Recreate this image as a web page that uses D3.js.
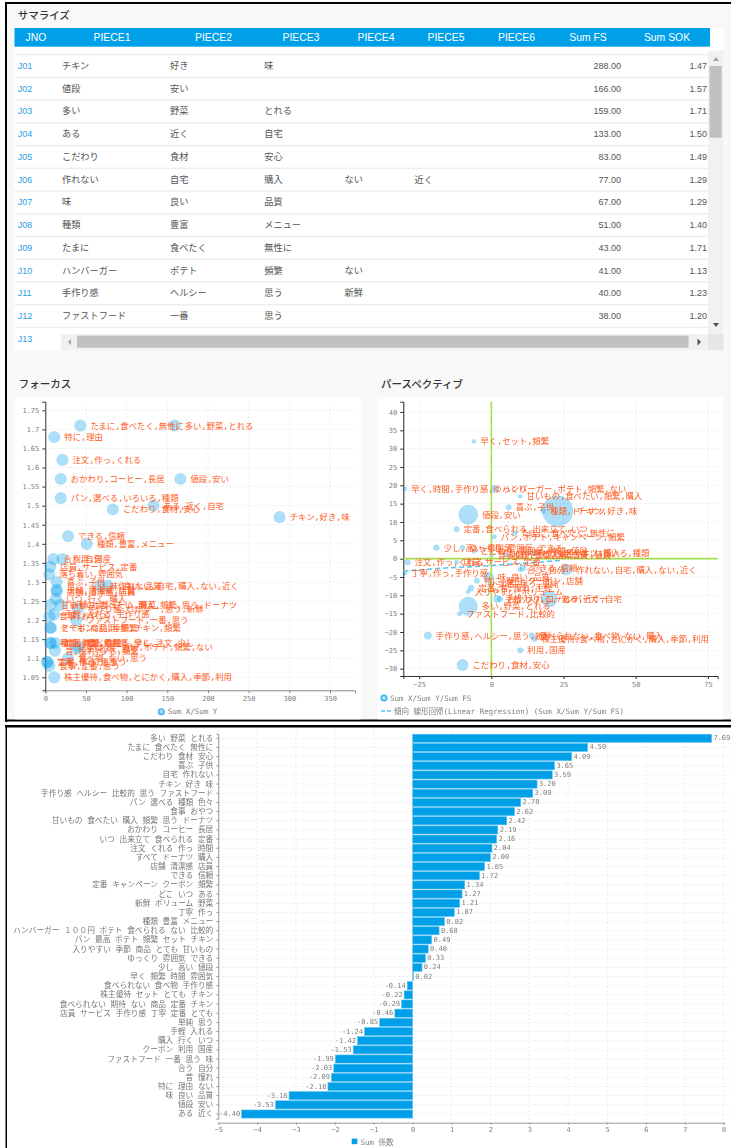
<!DOCTYPE html>
<html><head><meta charset="utf-8">
<script src="https://cdnjs.cloudflare.com/ajax/libs/d3/7.8.5/d3.min.js"></script>
<style>
html,body{margin:0;padding:0;background:#fff}
svg{display:block;filter:blur(0.45px)}
text{font-family:"Liberation Sans","Noto Sans CJK JP",sans-serif}
.mono{font-family:"DejaVu Sans Mono","Noto Sans CJK JP",monospace}
</style></head><body><svg id="c" width="731" height="1148"></svg>
<script>
// ---------- table ----------
const tableHeaders=["JNO","PIECE1","PIECE2","PIECE3","PIECE4","PIECE5","PIECE6","Sum FS","Sum SOK"];
const jno=["J01","J02","J03","J04","J05","J06","J07","J08","J09","J10","J11","J12","J13"];
const piece1=["チキン","値段","多い","ある","こだわり","作れない","味","種類","たまに","ハンバーガー","手作り感","ファストフード",""];
const piece2=["好き","安い","野菜","近く","食材","自宅","良い","豊富","食べたく","ポテト","ヘルシー","一番",""];
const piece3=["味","","とれる","自宅","安心","購入","品質","メニュー","無性に","頻繁","思う","思う",""];
const piece4=["","","","","","ない","","","","ない","新鮮","",""];
const piece5=["","","","","","近く","","","","","","",""];
const sumFS=[288,166,159,133,83,77,67,51,43,41,40,38];
const sumSOK=[1.47,1.57,1.71,1.50,1.49,1.29,1.29,1.40,1.71,1.13,1.23,1.20];
// ---------- focus scatter ----------
const focusLabels=["たまに,食べたく,無性に","多い,野菜,とれる","特に,理由","注文,作っ,くれる","おかわり,コーヒー,長居","値段,安い","パン,選べる,いろいろ,種類","ある,近く,自宅","こだわり,食材,安心","チキン,好き,味","できる,信頼","種類,豊富,メニュー","合う,自分","利用,国産","店員,サービス,定番","落ち着い,雰囲気","喜ぶ,子供","味,良い,品質","作れない,自宅,購入,ない,近く","単純,清潔感,店員","店舗,清潔感,店員","いつ,行く,購入","甘いもの,食べたい,購入,頻繁,思う,ドーナツ","新鮮,ボリューム,野菜","手作り感,ヘルシー,思う,新鮮","手軽,入れる,手作り感","食事,おやつ","ファストフード,一番,思う","とても,商品,季節,チキン,頻繁","クーポン,利用,頻繁","種類,時間,雰囲気,早く","定番,食べられる,少し,注文,少し","早く,頻繁,時間","ハンバーガー,ポテト,頻繁,ない","単純,味,思う","昔,憧れ,少し,頻繁","食べ物,ない,思う","定番,手作り,思う","丁寧,作っ,思う","食事,定番,思う","株主優待,食べ物,とにかく,購入,季節,利用"];
const focusX=[43,159,11,21,19,166,19,133,83,288,28,51,10,21,6,5,14,67,77,14,14,13,7,19,40,11,5,38,7,6,6,12,7,41,38,12,28,3,2,5,11];
const focusY=[1.71,1.71,1.68,1.62,1.57,1.57,1.52,1.50,1.49,1.47,1.42,1.40,1.36,1.36,1.34,1.32,1.30,1.29,1.29,1.28,1.275,1.255,1.24,1.24,1.23,1.215,1.21,1.20,1.18,1.18,1.14,1.14,1.14,1.13,1.125,1.12,1.10,1.09,1.09,1.08,1.05];
const focusXTicks=[0,50,100,150,200,250,300,350];
const focusYTicks=[1.05,1.1,1.15,1.2,1.25,1.3,1.35,1.4,1.45,1.5,1.55,1.6,1.65,1.7,1.75];
// ---------- perspective scatter ----------
const perspLabels=["早く,セット,頻繁","早く,時間,手作り感,ゆっくり","ハンバーガー,ポテト,頻繁,ない","甘いもの,食べたい,頻繁,購入","喜ぶ,子供","値段,安い","種類,ドーナツ","チキン,好き,味","定番,食べられる,出来立て,いつ","たまに,食べたく,無性に","パン,ポテト,キャンペーン,頻繁","少し,高い,雰囲気","ゆっくり,雰囲気,できる","こだわり,雰囲気,時間,値段","食事,おやつ,店舗,店員","パン,選べる,いろいろ,種類","種類,豊富,メニュー,値段","すべて,ドーナツ,購入","注文,作っ,くれる","店員,サービス,定番","丁寧,作っ,手作り感","作れない,自宅,購入,ない,近く","できる,信頼","合う,自分","味,良い,品質","特に,理由,クーポン,店舗","定番,昔,憧れ,手軽","入りやすい,ボリューム","定番,思う,単純","手軽,入れる,ハンバーガー","おかわり,コーヒー","ある,近く,自宅","多い,野菜,とれる","ファストフード,比較的","手作り感,ヘルシー,思う,新鮮","食べられない,食べ物,ない,購入","株主優待,食べ物,とにかく,購入,季節,利用","利用,国産","こだわり,食材,安心"];
const perspX=[-6,-30,1,10,6,-8,18,23,-12,8,1,-19,-10,-6,0,15,5,13,-29,-12,-30,26,11,10,-1,-5,-7,-8,0,2,3,20,-8,-11,-22,14,15,10,-10];
const perspY=[32,19,19,17,14,12,13,13,8,7,6,3,3,2,1,1.5,1,1.5,-1,-1,-4,-3,-2.5,-3,-5,-6,-8,-9,-7,-11,-11,-11,-13,-15,-21,-21,-22,-25,-29];
const perspFS=[6,8,41,6,20,166,14,288,20,16,10,22,14,6,6,19,12,8,21,9,7,77,28,10,67,20,24,6,14,40,21,133,159,10,40,22,11,21,83];
const trendX=[-30.5,-15,0,10,24];
const trendY=[-3.4,-2.5,-1.9,-1.3,-0.5];
const perspXTicks=[-25,0,25,50,75];
const perspYTicks=[-30,-25,-20,-15,-10,-5,0,5,10,15,20,25,30,35,40];
// ---------- bar chart ----------
const barCats=["多い 野菜 とれる","たまに 食べたく 無性に","こだわり 食材 安心","喜ぶ 子供","自宅 作れない","チキン 好き 味","手作り感 ヘルシー 比較的 思う ファストフード","パン 選べる 種類 色々","食事 おやつ","甘いもの 食べたい 購入 頻繁 思う ドーナツ","おかわり コーヒー 長居","いつ 出来立て 食べられる 定番","注文 くれる 作っ 時間","すべて ドーナツ 購入","店舗 清潔感 店員","できる 信頼","定番 キャンペーン クーポン 頻繁","どこ いつ ある","新鮮 ボリューム 野菜","丁寧 作っ","種類 豊富 メニュー","ハンバーガー １００円 ポテト 食べられる ない 比較的","パン 最高 ポテト 頻繁 セット チキン","入りやすい 季節 商品 とても 甘いもの","ゆっくり 雰囲気 できる","少し 高い 値段","早く 頻繁 時間 雰囲気","食べられない 食べ物 手作り感","株主優待 セット とても チキン","食べられない 期待 ない 商品 定番 チキン","店員 サービス 手作り感 丁寧 定番 とても","単純 思う","手軽 入れる","購入 行く いつ","クーポン 利用 国産","ファストフード 一番 思う 味","合う 自分","昔 憧れ","特に 理由 ない","味 良い 品質","値段 安い","ある 近く"];
const barVals=[7.69,4.50,4.09,3.65,3.59,3.20,3.09,2.78,2.62,2.42,2.19,2.16,2.04,2.00,1.85,1.72,1.34,1.27,1.21,1.07,0.82,0.68,0.49,0.40,0.33,0.24,0.02,-0.14,-0.22,-0.29,-0.46,-0.85,-1.24,-1.42,-1.53,-1.99,-2.03,-2.09,-2.18,-3.18,-3.53,-4.40];
const barTicks=[-5,-4,-3,-2,-1,0,1,2,3,4,5,6,7,8];

const BLUE="#00a0e9",ORANGE="#ff5a20",GRAY="#808080",GRID="#ececec";
const svg=d3.select("#c");
const rect=(g,x,y,w,h,f)=>g.append("rect").attr("x",x).attr("y",y).attr("width",w).attr("height",h).attr("fill",f);
const title=(x,y,t)=>svg.append("text").attr("x",x).attr("y",y).attr("font-size",10.5).attr("font-weight",500).attr("fill","#333").attr("dominant-baseline","central").text(t);

// panels and black frame
rect(svg,6,3,725,717,"#f8f8f8");
rect(svg,5,2,726,2,"#000");rect(svg,5,2,2,720,"#000");rect(svg,5,719.5,726,2,"#000");
rect(svg,5,725,726,2.5,"#000");rect(svg,5.5,725,1.5,423,"#000");
title(17.7,14.5,"サマライズ");title(18.7,384,"フォーカス");title(381,384,"パースペクティブ");

// ---- table ----
const T=svg.append("g");
rect(T,14.5,28,709,322,"#fff");
rect(T,14.5,28,695.5,18.7,BLUE);
const headerX=[36,112,213.5,301,376,446,516.5,588,667];
T.selectAll(".h").data(tableHeaders).join("text").attr("x",(d,i)=>headerX[i]).attr("y",37.5).attr("text-anchor","middle").attr("dominant-baseline","central").attr("fill","#fff").attr("font-size",10.4).attr("font-weight",500).text(d=>d);
const rowY=d3.scaleLinear().domain([0,12]).range([66,338.8]);
T.selectAll(".rl").data(jno).join("rect").attr("x",14.5).attr("width",693.5).attr("y",(d,i)=>rowY(i)-12).attr("height",1.3).attr("fill","#e9eef2");
const cols=[[piece1,62],[piece2,170],[piece3,264.3],[piece4,344.5],[piece5,414.5]];
T.selectAll(".j").data(jno).join("text").attr("x",17.7).attr("y",(d,i)=>rowY(i)).attr("dominant-baseline","central").attr("font-size",9).attr("fill","#2a9ce6").text(d=>d);
cols.forEach(([arr,x])=>T.selectAll(null).data(arr).join("text").attr("x",x).attr("y",(d,i)=>rowY(i)).attr("dominant-baseline","central").attr("font-size",9.2).attr("fill","#555").text(d=>d));
T.selectAll(null).data(sumFS).join("text").attr("x",621).attr("y",(d,i)=>rowY(i)).attr("text-anchor","end").attr("dominant-baseline","central").attr("font-size",9).attr("fill","#555").text(d=>d.toFixed(2));
T.selectAll(null).data(sumSOK).join("text").attr("x",707).attr("y",(d,i)=>rowY(i)).attr("text-anchor","end").attr("dominant-baseline","central").attr("font-size",9).attr("fill","#555").text(d=>d.toFixed(2));
// scrollbars
rect(T,708,50.7,15.5,283.3,"#f1f1f1");rect(T,709.5,66,12.2,71.7,"#c1c1c1");
rect(T,61,334,647,16,"#f1f1f1");rect(T,77,335.7,611.6,12,"#c1c1c1");rect(T,708,334,15.5,16,"#e6e6e6");
T.append("path").attr("d","M713 61l3-4 3 4z").attr("fill","#a3a3a3");
T.append("path").attr("d","M713 323l3 4 3-4z").attr("fill","#505050");
T.append("path").attr("d","M71 339l-3 3 3 3z").attr("fill","#a3a3a3");
T.append("path").attr("d","M697.5 338.5l3.5 3.5-3.5 3.5z").attr("fill","#505050");

function gridAxes(g,x,y,xTicks,yTicks,fmtX,fmtY,xAxisCol,yAxisCol){
  const [x0,x1]=x.range(),[y0,y1]=y.range();
  g.append("g").selectAll("line").data(xTicks).join("line").attr("x1",d=>x(d)).attr("x2",d=>x(d)).attr("y1",y0).attr("y2",y1).attr("stroke",GRID).attr("stroke-dasharray","2,2");
  g.append("g").selectAll("line").data(yTicks).join("line").attr("y1",d=>y(d)).attr("y2",d=>y(d)).attr("x1",x0).attr("x2",x1).attr("stroke",GRID).attr("stroke-dasharray","2,2");
  const ax=g.append("g").attr("transform",`translate(0,${y0})`).call(d3.axisBottom(x).tickValues(xTicks).tickFormat(fmtX).tickSize(3).tickPadding(3));
  const ay=g.append("g").attr("transform",`translate(${x0},0)`).call(d3.axisLeft(y).tickValues(yTicks).tickFormat(fmtY).tickSize(3).tickPadding(3));
  ax.selectAll("text").attr("class","mono").attr("font-size",7).attr("fill",GRAY);
  ay.selectAll("text").attr("class","mono").attr("font-size",7).attr("fill",GRAY);
  ax.selectAll("line").attr("stroke",xAxisCol);ay.selectAll("line").attr("stroke",yAxisCol);
  ax.select(".domain").attr("stroke",xAxisCol);ay.select(".domain").attr("stroke",yAxisCol);
  ax.attr("font-family",null);ay.attr("font-family",null);
}
function labels(g,xs,ys,rs,txt,x,y){
  g.append("g").selectAll("text").data(txt).join("text").attr("class","mono").attr("x",(d,i)=>x(xs[i])+rs(i)+4.3).attr("y",(d,i)=>y(ys[i])).attr("dominant-baseline","central").attr("font-size",8.4).attr("fill",ORANGE).text(d=>d);
}
function bubbles(g,xs,ys,rs,x,y){
  g.append("g").selectAll("circle").data(xs).join("circle").attr("cx",(d,i)=>x(d)).attr("cy",(d,i)=>y(ys[i])).attr("r",(d,i)=>rs(i)).attr("fill",BLUE).attr("fill-opacity",.32).attr("stroke",BLUE).attr("stroke-opacity",.12);
}

// ---- focus ----
const F=svg.append("g");
rect(F,14.7,397.3,346,322,"#fff");
const fx=d3.scaleLinear().domain([0,380.7]).range([45.3,355]);
const fy=d3.scaleLinear().domain([1.016,1.7726]).range([690.3,401.7]);
gridAxes(F,fx,fy,focusXTicks,focusYTicks,d3.format("d"),d=>(Math.round(d*100)/100).toString(),"#888","#333");
const frs=()=>5.8;
bubbles(F,focusX,focusY,frs,fx,fy);
labels(F,focusX,focusY,frs,focusLabels,fx,fy);
F.append("circle").attr("cx",161.3).attr("cy",711.7).attr("r",2.8).attr("fill","#a8dcf5").attr("stroke","#35b4ee").attr("stroke-width",1.4);
F.append("text").attr("class","mono").attr("x",167.7).attr("y",711.7).attr("dominant-baseline","central").attr("font-size",7.5).attr("fill",GRAY).text("Sum X/Sum Y");

// ---- perspective ----
const P=svg.append("g");
rect(P,377.7,397.3,345.6,322,"#fff");
const px=d3.scaleLinear().domain([-30.5,78.4]).range([403.3,717.7]);
const py=d3.scaleLinear().domain([-32,42.8]).range([676,401.7]);
gridAxes(P,px,py,perspXTicks,perspYTicks,d3.format("d"),d3.format("d"),"#333","#222");
const rScale=d3.scaleLinear().domain([0,288]).range([1.8,15.3]);
const prs=i=>rScale(perspFS[i]);
bubbles(P,perspX,perspY,prs,px,py);
P.append("line").attr("x1",px(0)).attr("x2",px(0)).attr("y1",401.7).attr("y2",676).attr("stroke","#a4e04a").attr("stroke-width",1.6);
P.append("line").attr("x1",403.3).attr("x2",717.7).attr("y1",py(0)).attr("y2",py(0)).attr("stroke","#a4e04a").attr("stroke-width",1.6);
P.append("path").datum(trendX).attr("d",d3.line().x(d=>px(d)).y((d,i)=>py(trendY[i]))).attr("fill","none").attr("stroke","#5cc4f2").attr("stroke-width",1.6).attr("stroke-dasharray","5,3");
labels(P,perspX,perspY,prs,perspLabels,px,py);
P.append("circle").attr("cx",384).attr("cy",698).attr("r",2.8).attr("fill","#a8dcf5").attr("stroke","#35b4ee").attr("stroke-width",1.4);
P.append("text").attr("class","mono").attr("x",390).attr("y",698).attr("dominant-baseline","central").attr("font-size",7.5).attr("fill",GRAY).text("Sum X/Sum Y/Sum FS");
P.append("line").attr("x1",381).attr("x2",392).attr("y1",711).attr("y2",711).attr("stroke","#5cc4f2").attr("stroke-width",1.6).attr("stroke-dasharray","4,2");
P.append("text").attr("class","mono").attr("x",394).attr("y",711).attr("dominant-baseline","central").attr("font-size",7.5).attr("fill",GRAY).text("傾向 線形回帰(Linear Regression) (Sum X/Sum Y/Sum FS)");

// ---- bars ----
const B=svg.append("g");
const bx=d3.scaleLinear().domain([-5,8]).range([218.3,723.7]);
const by=d3.scaleBand().domain(barCats).range([733.7,1118.6]);
const bAxisY=1122.7;
B.append("g").selectAll("line").data(barTicks).join("line").attr("x1",d=>bx(d)).attr("x2",d=>bx(d)).attr("y1",730).attr("y2",bAxisY).attr("stroke",GRID).attr("stroke-dasharray","2,2");
B.append("g").selectAll("line").data(barCats).join("line").attr("x1",218.3).attr("x2",731).attr("y1",d=>by(d)+by.bandwidth()/2).attr("y2",d=>by(d)+by.bandwidth()/2).attr("stroke",GRID).attr("stroke-dasharray","2,2");
B.append("g").selectAll("rect").data(barVals).join("rect").attr("x",d=>bx(Math.min(0,d))).attr("width",d=>Math.abs(bx(d)-bx(0))).attr("y",(d,i)=>by(barCats[i])+0.5).attr("height",by.bandwidth()-1).attr("fill",BLUE).attr("stroke","#66c5f1").attr("stroke-width",.6);
B.append("g").selectAll("text").data(barVals).join("text").attr("class","mono").attr("x",d=>bx(d)+(d<0?-1.5:1.8)).attr("y",(d,i)=>by(barCats[i])+by.bandwidth()/2).attr("text-anchor",d=>d<0?"end":"start").attr("dominant-baseline","central").attr("font-size",7).attr("fill",GRAY).text(d=>d.toFixed(2));
const bax=B.append("g").attr("transform",`translate(0,${bAxisY})`).call(d3.axisBottom(bx).tickValues(barTicks).tickFormat(d3.format("d")).tickSize(2).tickPadding(2));
bax.selectAll("text").attr("class","mono").attr("font-size",7).attr("fill",GRAY);
bax.select(".domain").attr("stroke","#999");bax.selectAll("line").attr("stroke","#999");
const bay=B.append("g").attr("transform","translate(218.3,0)").call(d3.axisLeft(by).tickSize(2).tickPadding(3));
bay.selectAll("text").attr("class","mono").attr("font-size",7.7).attr("fill","#777");
bay.select(".domain").attr("stroke","#999");bay.selectAll("line").attr("stroke","#999");
rect(B,351.7,1138.6,5.6,5.6,BLUE);
B.append("text").attr("class","mono").attr("x",360.5).attr("y",1142).attr("dominant-baseline","central").attr("font-size",7.5).attr("fill",GRAY).text("Sum 係数");
</script></body></html>
